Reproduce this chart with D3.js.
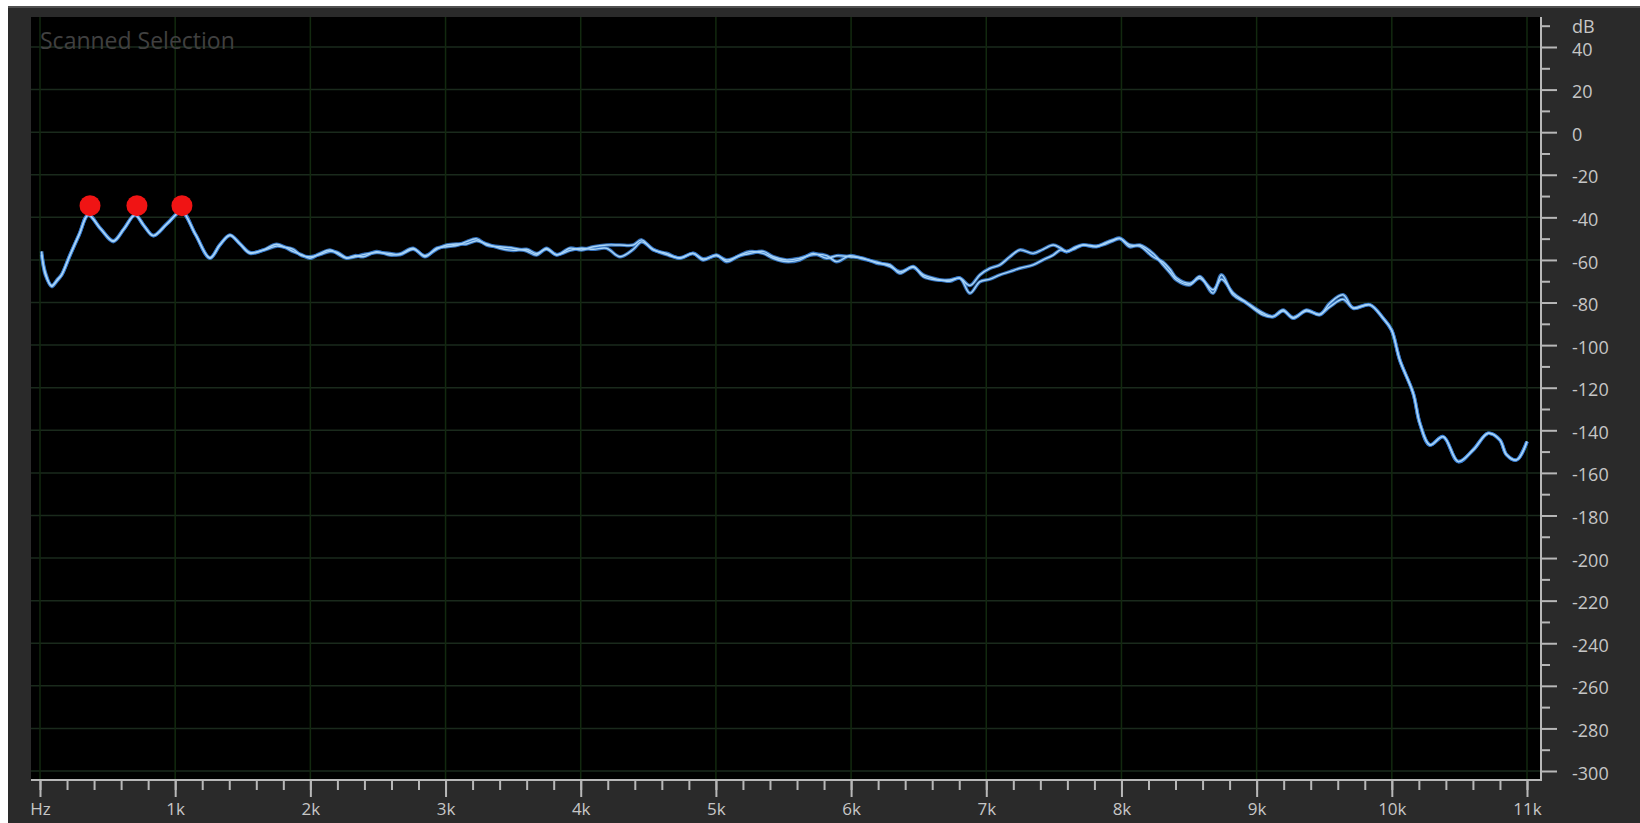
<!DOCTYPE html>
<html>
<head>
<meta charset="utf-8">
<script src="https://cdn.jsdelivr.net/npm/d3@7"></script>
<style>
  body { margin: 0; background: #ffffff; }
  svg { display: block; font-family: "Open Sans", "Noto Sans", sans-serif; }
</style>
</head>
<body>
<svg id="chart" width="1640" height="823"></svg>
<script>
// Frequency analysis: level (dB) per frequency (Hz) for the two channels
const freqHz = [
  12, 40, 86, 130, 160, 220, 290, 357, 450, 542, 620, 703, 770, 838, 940, 1048,
  1150, 1257, 1330, 1405, 1480, 1553, 1652, 1750, 1810, 1874, 1935, 1997, 2070, 2145,
  2200, 2268, 2330, 2391, 2490, 2589, 2663, 2761, 2848, 2934, 3008, 3094, 3156, 3230,
  3304, 3402, 3501, 3600, 3673, 3747, 3822, 3920, 4006, 4093, 4191, 4290, 4389, 4450,
  4536, 4635, 4734, 4832, 4906, 5005, 5079, 5178, 5251, 5350, 5424, 5523, 5621, 5720,
  5819, 5893, 5991, 6090, 6189, 6287, 6361, 6460, 6534, 6632, 6731, 6805, 6879, 6953,
  7027, 7101, 7175, 7249, 7347, 7420, 7495, 7550, 7594, 7660, 7717, 7815, 7880, 7938,
  7988, 8062, 8136, 8234, 8308, 8360, 8407, 8506, 8580, 8678, 8740, 8826, 8925, 9048,
  9122, 9196, 9270, 9369, 9467, 9541, 9640, 9714, 9837, 9936, 9998, 10059, 10158, 10207,
  10281, 10380, 10491, 10602, 10713, 10799, 10849, 10923, 11000
];
const leftDb = [
  -57.5, -66, -72.5, -69, -67, -58, -48, -38.9, -45.5, -51.4, -45.5, -38.9, -44, -48.6, -43, -37.3,
  -48, -59.2, -53, -48.3, -52.5, -56.9, -55.3, -52.6, -54, -56.1, -57.5, -59.2, -57, -55.3,
  -57, -59.2, -58, -58.5, -56.1, -57.7, -57.2, -54.5, -58.5, -54.5, -53.8, -53, -51.4, -50.1,
  -53, -53.8, -54.5, -55.8, -57.7, -54.5, -57.7, -54.5, -55.3, -53.8, -53, -53, -53, -50.6,
  -55.3, -56.9, -59.2, -56.9, -60, -57.7, -60.8, -57.7, -56.1, -56.9, -59.2, -60.8, -60, -56.9,
  -59.2, -58, -58.5, -59.2, -61.5, -62.3, -66.2, -63.1, -67.8, -69.4, -69.4, -68.6, -72, -67,
  -64, -62.3, -58.5, -55.3, -56.9, -55, -53, -54.5, -56.1, -54, -53, -53.8, -52, -50.6,
  -49.8, -53.8, -53, -57, -62.3, -66, -69.4, -71.7, -67.8, -75.6, -67, -76.4, -80.3, -85.8,
  -86.6, -83.5, -87.4, -83.5, -85.8, -80.3, -76.4, -82.7, -81.1, -87.4, -92.9, -107, -122.6, -136.7,
  -146.9, -143, -154.7, -149.2, -141.4, -144.5, -151.5, -153.9, -145.3
];
const rightDb = [
  -56, -67, -72, -69.5, -67, -58, -48, -38.9, -45.5, -51, -45.5, -38.9, -44, -48.6, -43, -37.3,
  -48, -59, -53, -48.5, -52.5, -56.5, -55.5, -53.5, -54, -55, -58, -58.5, -57.5, -56,
  -56.5, -59, -58.5, -57.5, -56.5, -57, -57.5, -55, -58, -55, -53, -52.5, -52.5, -51,
  -52.5, -54.5, -55.5, -55, -57, -55, -57.5, -55.5, -54.5, -55, -54.5, -58.5, -55, -51.5,
  -55, -57.5, -59, -57, -59.5, -58, -60, -58, -57, -56, -58.5, -60, -59.2, -57.5,
  -58, -60.8, -58, -59.5, -61, -63, -65.5, -63.5, -67, -69, -70, -68.5, -75.6, -70.2,
  -69, -67, -65.5, -63.9, -62.3, -60, -57.7, -55.3, -56.1, -54.5, -53, -53.5, -52.5, -51,
  -50, -53, -53.5, -58.5, -61, -64.5, -68.5, -71, -68.6, -74, -69, -75.5, -80, -85,
  -86.6, -84, -87, -84, -85.5, -82, -78.5, -82.5, -81, -87.4, -92.9, -107, -122.6, -136.7,
  -146.9, -143, -154.7, -149.2, -141.4, -144.5, -151.5, -153.9, -145.3
];

// Harmonic peak markers
const peakHz = [370, 717, 1050];
const peakDb = [-34.5, -34.5, -34.5];

// Axis ticks and labels
const freqMajorTicks = d3.range(0, 11001, 1000);
const freqMinorTicks = d3.range(0, 11001, 200);
const freqTickLabels = ["Hz", "1k", "2k", "3k", "4k", "5k", "6k", "7k", "8k", "9k", "10k", "11k"];
const dbMajorTicks = d3.range(40, -301, -20);
const dbMinorTicks = d3.range(50, -300, -20);
const dbUnitLabel = "dB";
const panelTitle = "Scanned Selection";

const W = 1640, H = 823;
const plot = { left: 31, right: 1541, top: 17, bottom: 780 };

const x = d3.scaleLinear().domain([0, 11000]).range([40, 1527]);
const y = d3.scaleLinear().domain([40, -300]).range([47, 771]);

const svg = d3.select("#chart");

// Window panel
svg.append("rect")
  .attr("x", 8).attr("y", 6).attr("width", W - 8).attr("height", H - 6)
  .attr("fill", "#2a2a2a");
svg.append("line")
  .attr("x1", 8).attr("x2", W).attr("y1", 7).attr("y2", 7)
  .attr("stroke", "#505050").attr("stroke-width", 2);

// Plot background
svg.append("rect")
  .attr("x", plot.left).attr("y", plot.top)
  .attr("width", plot.right - plot.left).attr("height", plot.bottom - plot.top)
  .attr("fill", "#000");

// Grid
const grid = svg.append("g");
grid.selectAll(".hgrid").data(dbMajorTicks).join("line")
  .attr("x1", plot.left).attr("x2", plot.right)
  .attr("y1", d => y(d)).attr("y2", d => y(d))
  .attr("stroke", "#1a2a1c").attr("stroke-width", 1.5);
grid.selectAll(".vgrid").data(freqMajorTicks).join("line")
  .attr("x1", d => x(d)).attr("x2", d => x(d))
  .attr("y1", plot.top).attr("y2", plot.bottom)
  .attr("stroke", "#12290f").attr("stroke-width", 1.5);

// Title inside the plot
svg.append("text")
  .attr("x", 40).attr("y", 49)
  .attr("font-size", 23)
  .attr("fill", "#404040")
  .text(panelTitle);

// Spectrum lines
const line = d3.line()
  .x((d, i) => x(freqHz[i]))
  .y(d => y(d))
  .curve(d3.curveCatmullRom.alpha(0.5));

const series = [rightDb, leftDb];
const lines = svg.append("g");
series.forEach(s => {
  lines.append("path").datum(s)
    .attr("d", line).attr("fill", "none")
    .attr("stroke", "#3c82d8").attr("stroke-width", 3.6)
    .attr("stroke-linejoin", "round").attr("stroke-opacity", 0.85);
});
series.forEach(s => {
  lines.append("path").datum(s)
    .attr("d", line).attr("fill", "none")
    .attr("stroke", "#a9d4f6").attr("stroke-width", 1.4)
    .attr("stroke-linejoin", "round");
});

// Peak markers
svg.append("g").selectAll("circle").data(peakHz).join("circle")
  .attr("cx", d => x(d))
  .attr("cy", (d, i) => y(peakDb[i]))
  .attr("r", 10.5)
  .attr("fill", "#f01414");

// Axis frame lines
const axisColor = "#b8b8b8";
svg.append("line")
  .attr("x1", plot.left).attr("x2", plot.right + 1)
  .attr("y1", plot.bottom).attr("y2", plot.bottom)
  .attr("stroke", axisColor).attr("stroke-width", 2);
svg.append("line")
  .attr("x1", plot.right).attr("x2", plot.right)
  .attr("y1", plot.top).attr("y2", plot.bottom + 1)
  .attr("stroke", axisColor).attr("stroke-width", 2);

// Frequency axis
const xMinor = svg.append("g").attr("transform", `translate(0,${plot.bottom})`)
  .call(d3.axisBottom(x).tickValues(freqMinorTicks).tickSize(10).tickFormat(""));
const xMajor = svg.append("g").attr("transform", `translate(0,${plot.bottom})`)
  .call(d3.axisBottom(x).tickValues(freqMajorTicks).tickSize(17).tickPadding(6)
    .tickFormat((d, i) => freqTickLabels[i]));

// Level axis
const yMinor = svg.append("g").attr("transform", `translate(${plot.right},0)`)
  .call(d3.axisRight(y).tickValues(dbMinorTicks).tickSize(9).tickFormat(""));
const yMajor = svg.append("g").attr("transform", `translate(${plot.right},0)`)
  .call(d3.axisRight(y).tickValues(dbMajorTicks).tickSize(16).tickPadding(15)
    .tickFormat(d => String(d)));

[xMinor, xMajor, yMinor, yMajor].forEach(g => {
  g.select(".domain").remove();
  g.selectAll(".tick line").attr("stroke", axisColor).attr("stroke-width", 2);
  g.selectAll(".tick text")
    .attr("fill", "#c6c6c6")
    .attr("font-size", 18)
    .attr("font-family", "\"Open Sans\", \"Noto Sans\", sans-serif");
});
xMajor.selectAll(".tick text").attr("font-size", 17);
yMajor.selectAll(".tick text").attr("dy", "0.45em");

// Unit label on top of the level axis
svg.append("text")
  .attr("x", plot.right + 31).attr("y", y(50))
  .attr("dy", "0.4em")
  .attr("font-size", 18)
  .attr("fill", "#c6c6c6")
  .text(dbUnitLabel);
</script>
</body>
</html>
